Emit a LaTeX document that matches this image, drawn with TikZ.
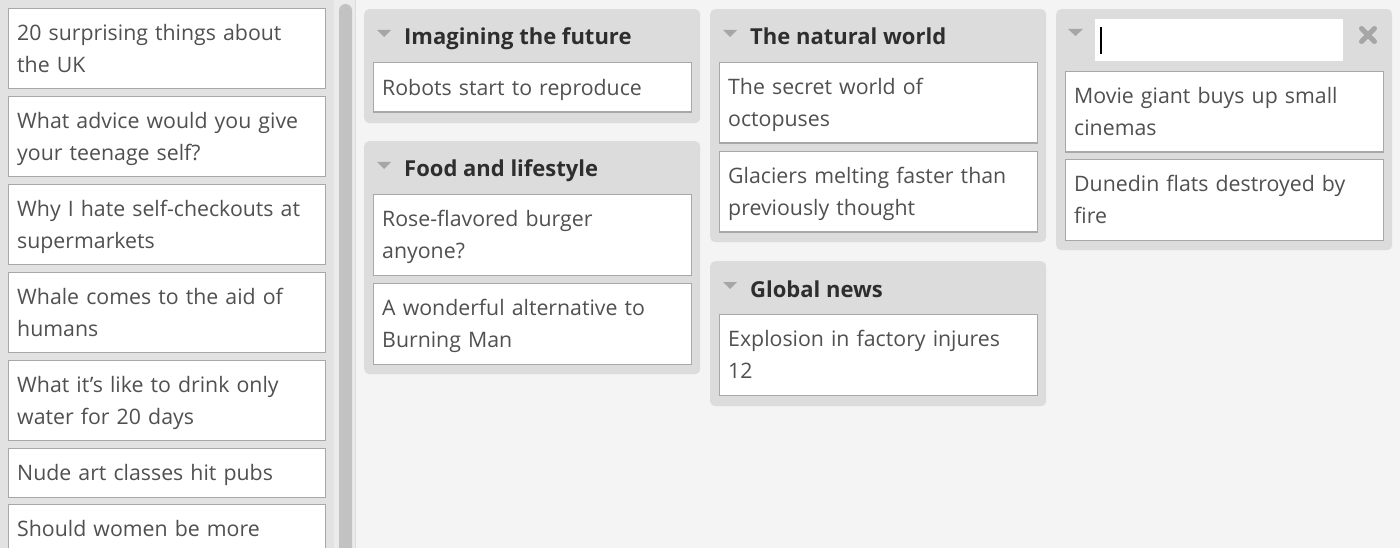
\documentclass[tikz,border=0pt]{standalone}
\usepackage{fontspec}
\setmainfont{Open Sans}
\definecolor{mainbg}{HTML}{F4F4F4}
\definecolor{leftbg}{HTML}{E2E2E2}
\definecolor{trackbg}{HTML}{EBEBEB}
\definecolor{thumb}{HTML}{C2C2C2}
\definecolor{sepline}{HTML}{DDDDDD}
\definecolor{grpbg}{HTML}{DCDCDC}
\definecolor{cardline}{HTML}{A8A8A8}
\definecolor{cardtext}{HTML}{505050}
\definecolor{headtext}{HTML}{2E2E2E}
\definecolor{tricol}{HTML}{A6A6A6}
\newcommand\cardfont{\fontsize{21.3}{32}\selectfont}
\newcommand\ls{\rule[-8pt]{0pt}{32pt}}
\begin{document}
\begin{tikzpicture}[x=1pt,y=-1pt,
  card/.style={draw=cardline, line width=1.4pt, fill=white, anchor=north west,
    text width=299.5pt, inner xsep=8.5pt, inner ysep=0pt, align=left,
    font=\cardfont, text=cardtext},
  wcard/.style={card, text width=300.5pt},
  grp/.style={fill=grpbg, rounded corners=5pt, anchor=north west, inner sep=0pt,
    minimum width=336pt},
  head/.style={anchor=base west, font=\fontsize{22}{32}\selectfont\bfseries,
    text=headtext, inner sep=0pt},
  tri/.style={fill=tricol}]
\useasboundingbox (0,0) rectangle (1400,548);
\clip (0,0) rectangle (1400,548);
% backgrounds
\fill[mainbg] (0,0) rectangle (1400,548);
\fill[leftbg] (0,0) rectangle (334,548);
\fill[trackbg] (334,0) rectangle (355,548);
\draw[sepline, line width=1pt] (355.5,0) -- (355.5,548);
\fill[thumb, rounded corners=6.5pt] (339,4) rectangle (352,600);
% left list
\node[card, minimum height=80pt] (l1) at (8,8) {\ls 20 surprising things about\\\ls the UK};
\node[card, minimum height=80pt] (l2) at (8,96) {\ls What advice would you give\\\ls your teenage self?};
\node[card, minimum height=80pt] (l3) at (8,184) {\ls Why I hate self-checkouts at\\\ls supermarkets};
\node[card, minimum height=80pt] (l4) at (8,272) {\ls Whale comes to the aid of\\\ls humans};
\node[card, minimum height=80pt] (l5) at (8,360) {\ls What it’s like to drink only\\\ls water for 20 days};
\node[card, minimum height=48.5pt] (l6) at (8,448) {\ls Nude art classes hit pubs};
\node[card, minimum height=80pt] (l7) at (8,504) {\ls Should women be more\\\ls};
% group 1
\node[grp, minimum height=114pt] (g1) at (364,9) {};
\fill[tri] (377,30) -- (391,30) -- (384,37) -- cycle;
\node[head] (h1) at (404,45) {Imagining the future};
\node[wcard, minimum height=49.5pt] (c11) at (373,62) {\ls Robots start to reproduce};
% group 2
\node[grp, minimum height=233pt] (g2) at (364,141) {};
\fill[tri] (377,162) -- (391,162) -- (384,169) -- cycle;
\node[head] (h2) at (404,177) {Food and lifestyle};
\node[wcard, minimum height=80.5pt] (c21) at (373,194) {\ls Rose-flavored burger\\\ls anyone?};
\node[wcard, minimum height=80.5pt] (c22) at (373,283) {\ls A wonderful alternative to\\\ls Burning Man};
% group 3
\node[grp, minimum height=233pt] (g3) at (710,9) {};
\fill[tri] (723,30) -- (737,30) -- (730,37) -- cycle;
\node[head] (h3) at (750,45) {The natural world};
\node[wcard, minimum height=80.5pt] (c31) at (719,62) {\ls The secret world of\\\ls octopuses};
\node[wcard, minimum height=80.5pt] (c32) at (719,151) {\ls Glaciers melting faster than\\\ls previously thought};
% group 4
\node[grp, minimum height=145pt] (g4) at (710,261) {};
\fill[tri] (723,282) -- (737,282) -- (730,289) -- cycle;
\node[head] (h4) at (750,297) {Global news};
\node[wcard, minimum height=80.5pt] (c41) at (719,314) {\ls Explosion in factory injures\\\ls 12};
% group 5 (editing)
\node[grp, minimum height=241pt] (g5) at (1056,9) {};
\fill[tri] (1068,29) -- (1083,29) -- (1075.5,36) -- cycle;
\node[fill=white, anchor=north west, inner sep=0pt, minimum width=248pt, minimum height=42pt] (in5) at (1095,19) {};
\draw[black, line width=1.5pt] (1101,27) -- (1101,54);
\draw[tricol, line width=5pt, line cap=round] (1361.5,28.5) -- (1374.5,41.5) (1374.5,28.5) -- (1361.5,41.5);
\node[wcard, minimum height=80.5pt] (c51) at (1065,71) {\ls Movie giant buys up small\\\ls cinemas};
\node[wcard, minimum height=80.5pt] (c52) at (1065,159) {\ls Dunedin flats destroyed by\\\ls fire};
\end{tikzpicture}
\end{document}
